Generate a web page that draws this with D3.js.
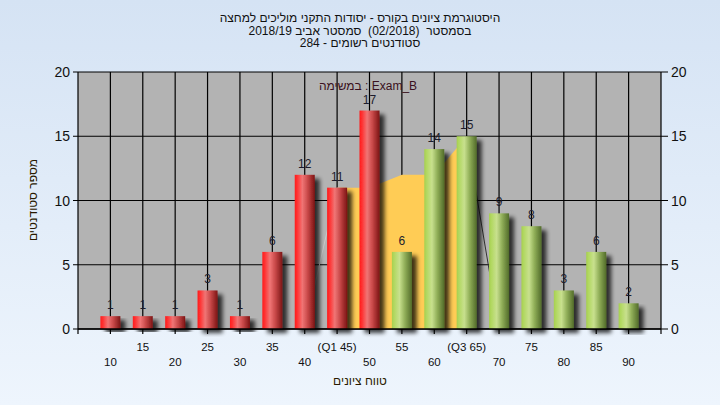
<!DOCTYPE html>
<html><head><meta charset="utf-8">
<script src="https://cdn.jsdelivr.net/npm/d3@7/dist/d3.min.js"></script>
<style>
html,body{margin:0;padding:0;background:#fff;}
svg{display:block;}
text{font-family:"Liberation Sans","DejaVu Sans",Arial,sans-serif;white-space:pre;}
</style></head>
<body>
<svg id="chart" width="720" height="405"></svg>
<script>
const categories = [10,15,20,25,30,35,40,45,50,55,60,65,70,75,80,85,90];
const counts = [1,1,1,3,1,6,12,11,17,6,14,15,9,8,3,6,2];
const tickLabels = ["10","15","20","25","30","35","40","(Q1 45)","50","55","60","(Q3 65)","70","75","80","85","90"];
const passMark = 55;
const quartileX = [45,50,55,60,65];
const quartileY = [11,11,12,12,15];
const yTicks = [0,5,10,15,20];
const titleLines = ["היסטוגרמת ציונים בקורס - יסודות התקני מוליכים למחצה",
                    "בסמסטר  (02/2018)  סמסטר אביב 2018/19",
                    "סטודנטים רשומים - 284"];
const examLabel = "במשימה : Exam_B";
const xTitle = "טווח ציונים";
const yTitle = "מספר סטודנטים";

const svg = d3.select("#chart");
const W = 720, H = 405;
const L = 78, R = 661, T = 72, B = 329;

const defs = svg.append("defs");
const bg = defs.append("linearGradient").attr("id","bg").attr("x1",0).attr("y1",0).attr("x2",0).attr("y2",1);
bg.append("stop").attr("offset","0%").attr("stop-color","#d5e3f4");
bg.append("stop").attr("offset","100%").attr("stop-color","#eef5fd");

function cyl(id, stops){
  const g = defs.append("linearGradient").attr("id",id).attr("x1",0).attr("y1",0).attr("x2",1).attr("y2",0);
  stops.forEach(s=>g.append("stop").attr("offset",s[0]).attr("stop-color",s[1]));
}
cyl("red",[["0%","#ff1c1c"],["12%","#ff3030"],["38%","#f07575"],["65%","#c84848"],["100%","#7c1414"]]);
cyl("green",[["0%","#a6d04e"],["12%","#b2d862"],["38%","#c8e08e"],["65%","#90ae58"],["100%","#526c2a"]]);

const sh = defs.append("filter").attr("id","shadow").attr("x","-20%").attr("y","-10%").attr("width","180%").attr("height","130%");
sh.append("feGaussianBlur").attr("in","SourceAlpha").attr("stdDeviation",2).attr("result","b");
sh.append("feOffset").attr("in","b").attr("dx",5).attr("dy",4).attr("result","o");
sh.append("feComponentTransfer").attr("in","o").attr("result","o2")
  .append("feFuncA").attr("type","linear").attr("slope",0.75);
const m = sh.append("feMerge");
m.append("feMergeNode").attr("in","o2");
m.append("feMergeNode").attr("in","SourceGraphic");

svg.append("rect").attr("width",W).attr("height",H).attr("fill","url(#bg)");

const x = d3.scaleLinear().domain([5,95]).range([L,R]);
const y = d3.scaleLinear().domain([0,20]).range([B,T]);

svg.append("rect").attr("x",L).attr("y",T).attr("width",R-L).attr("height",B-T).attr("fill","#b3b3b3");

const gridX = [5].concat(categories).concat([95]);
svg.append("g").selectAll("line").data(gridX).join("line")
  .attr("x1",d=>x(d)).attr("x2",d=>x(d)).attr("y1",T).attr("y2",B+5)
  .attr("stroke","#000").attr("stroke-width",1.2);
svg.append("g").selectAll("line").data(yTicks).join("line")
  .attr("x1",L-5).attr("x2",R+7).attr("y1",d=>y(d)).attr("y2",d=>y(d))
  .attr("stroke","#000").attr("stroke-width",1.2);

const area = d3.area().x((d,i)=>x(quartileX[i])).y0(y(0)).y1(d=>y(d));
svg.append("path").datum(quartileY).attr("d",area).attr("fill","#ffcc55");
const last = quartileX.length-1;
svg.append("line").attr("x1",x(quartileX[last])).attr("y1",y(quartileY[last]))
  .attr("x2",x(quartileX[last]+5)).attr("y2",y(0)).attr("stroke","#333").attr("stroke-width",1);
svg.append("line").attr("x1",x(quartileX[0]-5)).attr("y1",y(0))
  .attr("x2",x(quartileX[0])).attr("y2",y(quartileY[0])).attr("stroke","#c8c8c8").attr("stroke-width",1);

const bw = 20;
const data = categories.map((c,i)=>({c, v:counts[i], lab:tickLabels[i], i}));
svg.append("g").selectAll("rect").data(data).join("rect")
  .attr("x",d=>x(d.c)-bw/2).attr("y",d=>y(d.v)).attr("width",bw).attr("height",d=>y(0)-y(d.v))
  .attr("fill",d=>d.c>=passMark?"url(#green)":"url(#red)")
  .attr("filter","url(#shadow)");

svg.append("line").attr("x1",L).attr("x2",R).attr("y1",B).attr("y2",B).attr("stroke","#000").attr("stroke-width",1.5);

svg.append("g").selectAll("text").data(data).join("text")
  .attr("x",d=>x(d.c)).attr("y",d=>y(d.v)-7).attr("text-anchor","middle")
  .attr("font-size",12).attr("fill","#1c1c2c").text(d=>d.v);

svg.append("g").selectAll("text").data(yTicks).join("text")
  .attr("x",70).attr("y",d=>y(d)+5).attr("text-anchor","end").attr("font-size",14).attr("fill","#111").text(d=>d);
svg.append("g").selectAll("text").data(yTicks).join("text")
  .attr("x",671).attr("y",d=>y(d)+5).attr("text-anchor","start").attr("font-size",14).attr("fill","#111").text(d=>d);

svg.append("g").selectAll("text").data(data).join("text")
  .attr("x",d=>x(d.c)).attr("y",d=>d.i%2===1?351:366).attr("text-anchor","middle")
  .attr("font-size",11.5).attr("fill","#111").text(d=>d.lab);

titleLines.forEach((t,i)=>{
  svg.append("text").attr("x",360).attr("y",22+i*12.5).attr("text-anchor","middle")
    .attr("direction","rtl").style("unicode-bidi","plaintext")
    .attr("font-size",12).attr("fill","#111").text(t);
});
svg.append("text").attr("x",368).attr("y",90).attr("text-anchor","middle")
  .attr("font-size",12).attr("fill","#3a1020").text(examLabel);
svg.append("text").attr("x",360).attr("y",385).attr("text-anchor","middle")
  .attr("font-size",12).attr("fill","#2a1a00").text(xTitle);
svg.append("text").attr("transform","translate(37,200) rotate(-90)").attr("text-anchor","middle")
  .attr("font-size",12).attr("fill","#2a1a00").text(yTitle);
</script>
</body></html>
